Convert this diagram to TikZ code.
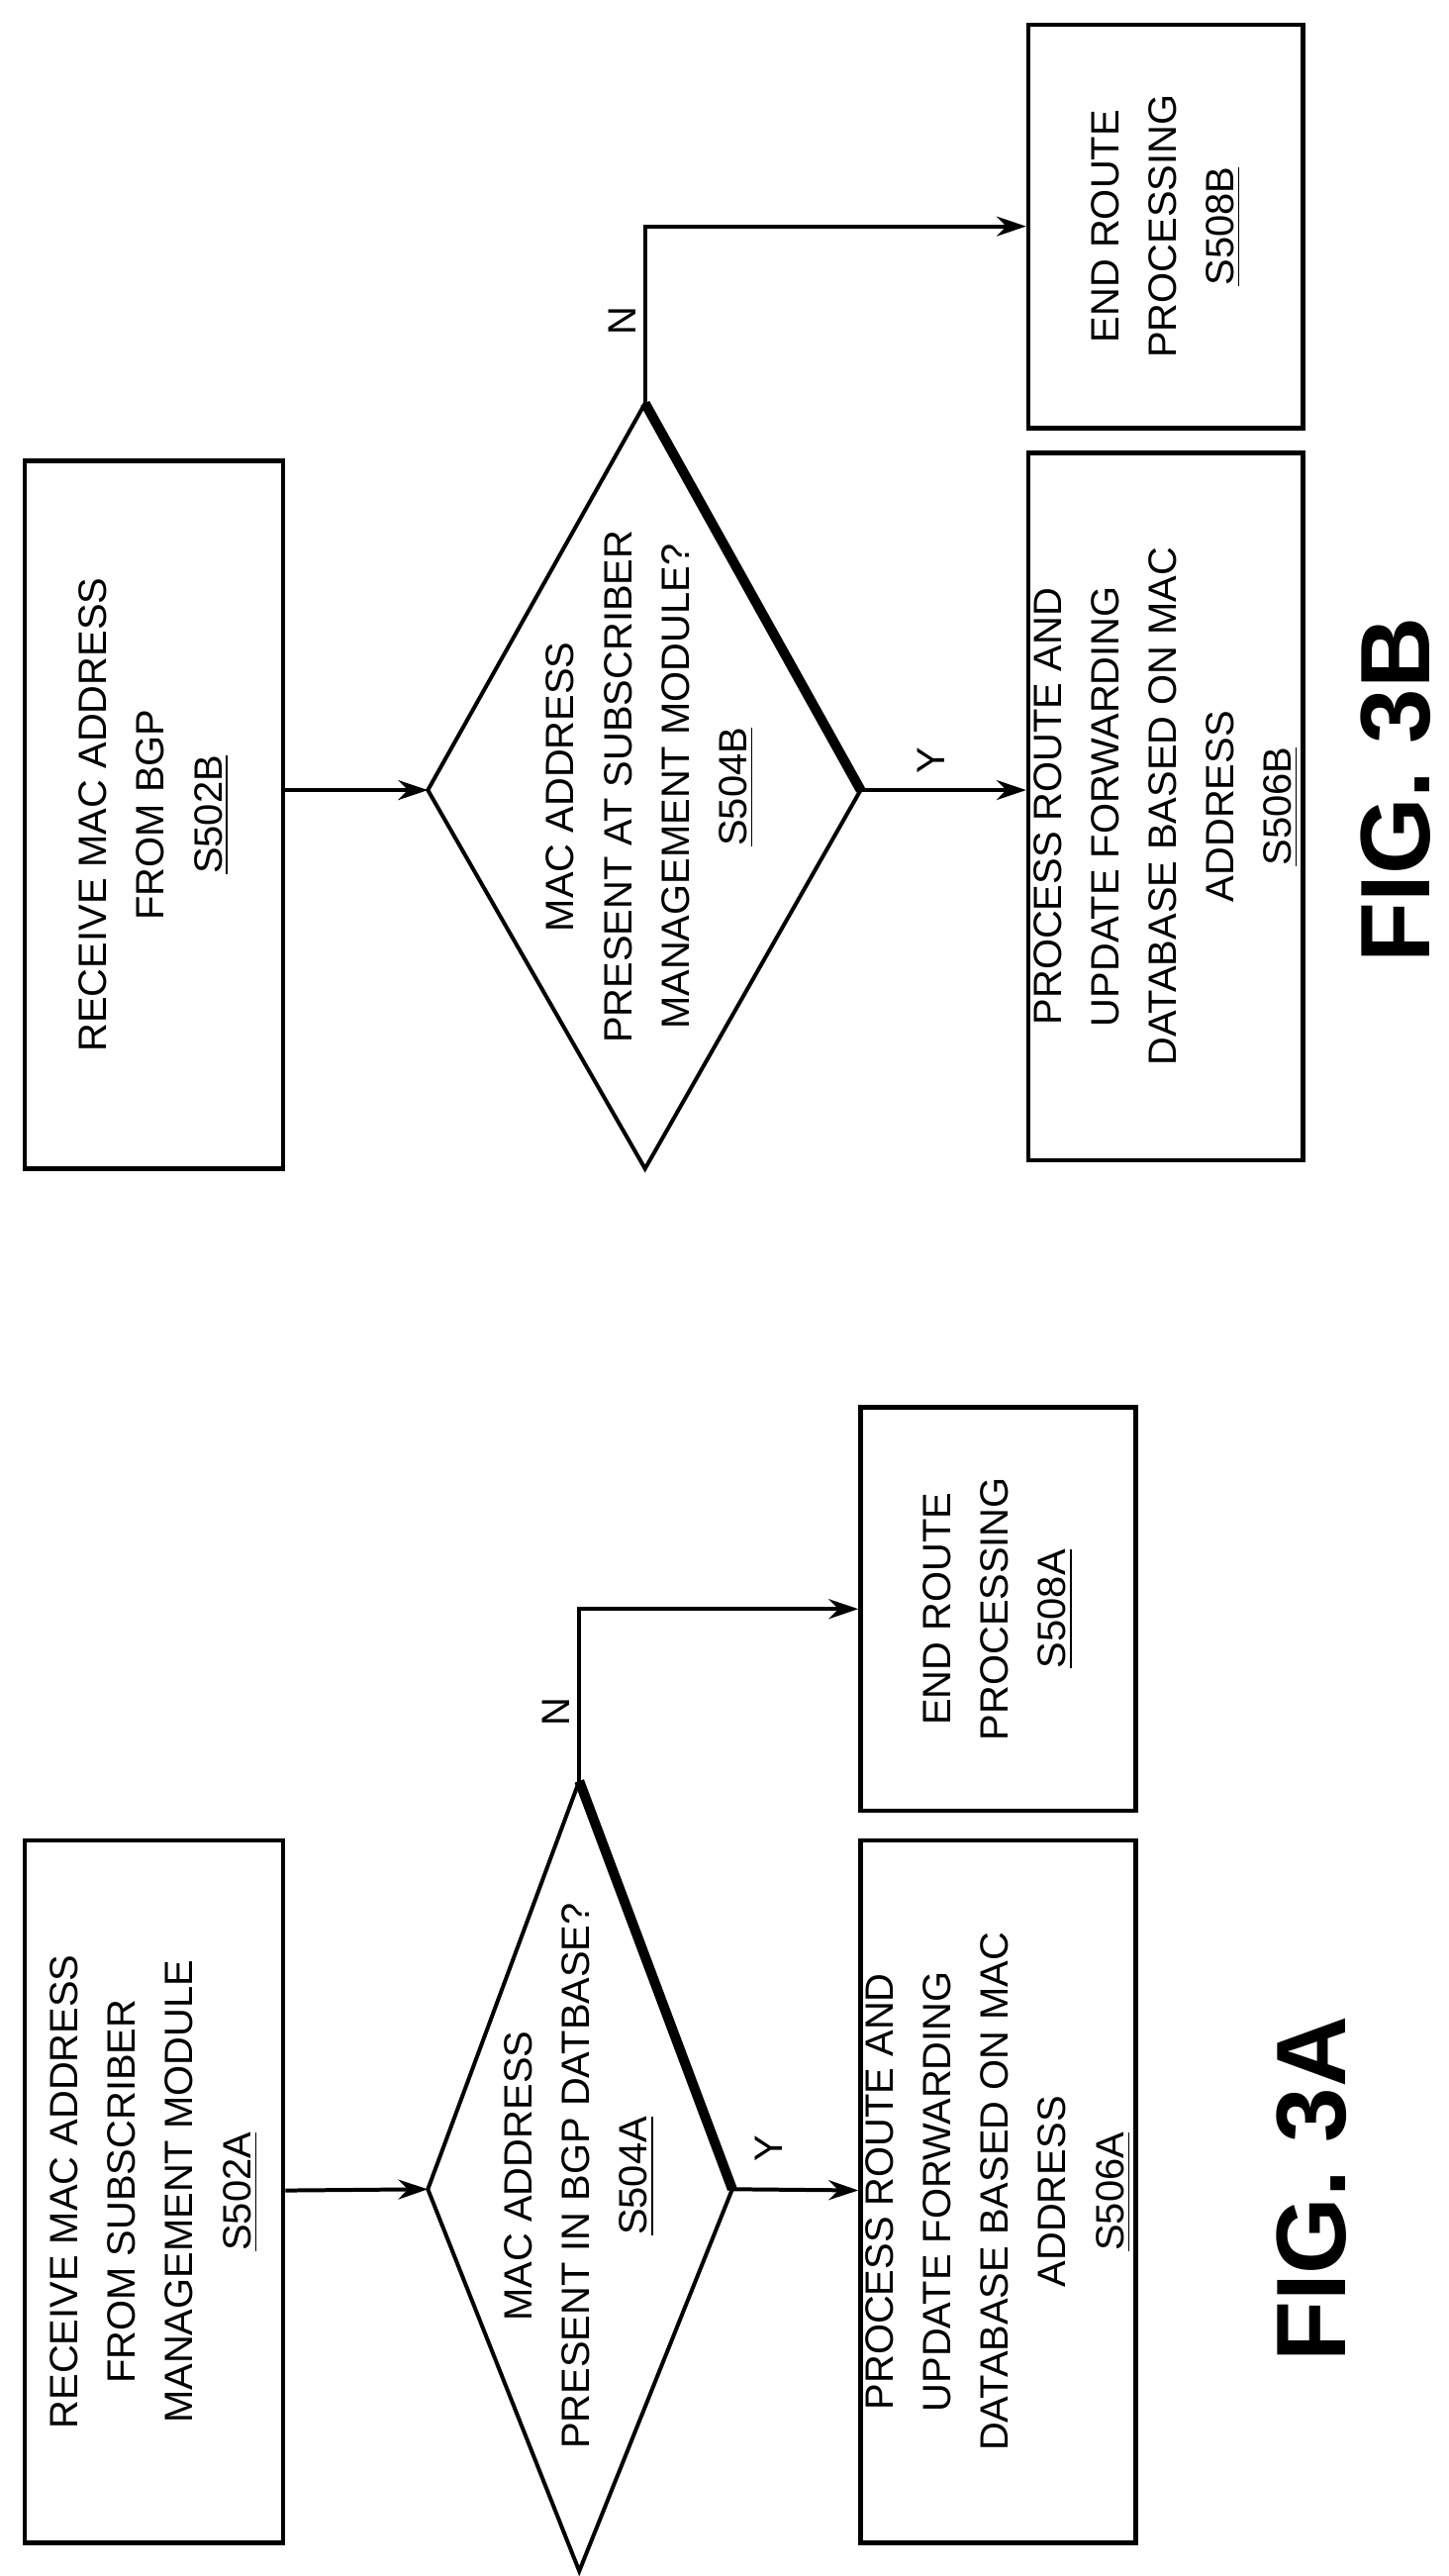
\documentclass[tikz,border=0pt]{standalone}
\usepackage{fontspec}
\setmainfont{Liberation Sans}
\usetikzlibrary{arrows.meta}
\begin{document}
\begin{tikzpicture}[x=0.5pt,y=-0.5pt,
  box/.style={draw,line width=1.4pt,rotate=90,align=center,inner sep=0pt,font=\fontsize{12}{17.5}\selectfont},
  dtxt/.style={rotate=90,align=center,inner sep=0pt,font=\fontsize{12}{17.5}\selectfont},
  dline/.style={line width=1.2pt,line join=miter},
  arr/.style={line width=1.2pt,-{Stealth[length=9pt,width=6pt]}},
  lbl/.style={rotate=90,font=\fontsize{12}{15}\selectfont},
  fig/.style={rotate=90,font=\bfseries\fontsize{30}{34}\selectfont}]
\useasboundingbox (0,0) rectangle (880,1565);
% FIG 3A
\node[box,minimum width=213.5pt,minimum height=78.5pt] (a2) at (93.5,1331.5) {RECEIVE MAC ADDRESS\\FROM SUBSCRIBER\\MANAGEMENT MODULE\\\underline{S502A}};
\coordinate (a4l) at (260,1330);
\coordinate (a4t) at (352,1082);
\coordinate (a4r) at (445,1330);
\coordinate (a4b) at (352,1562);
\draw[dline] (a4l) -- (a4t) -- (a4r) -- (a4b) -- cycle;
\draw[line width=3pt] (a4t) -- (a4r);
\node[dtxt] (a4) at (352,1322) {MAC ADDRESS\\PRESENT IN BGP DATBASE?\\\underline{S504A}};
\node[box,minimum width=213.5pt,minimum height=83.5pt] (a6) at (606.5,1331.5) {PROCESS ROUTE AND\\UPDATE FORWARDING\\DATABASE BASED ON MAC\\ADDRESS\\\underline{S506A}};
\node[box,minimum width=122.5pt,minimum height=83.5pt] (a8) at (606.5,977.5) {END ROUTE\\PROCESSING\\\underline{S508A}};
\draw[arr] (a2) -- (a4l);
\draw[arr] (a4r) -- (a6);
\draw[arr] (a4t) |- (a8);
\node[lbl] (ya) at (467,1305) {Y};
\node[lbl] (na) at (338,1040) {N};
\node[fig] (fa) at (797,1330) {FIG. 3A};
% FIG 3B
\node[box,minimum width=215pt,minimum height=78.5pt] (b2) at (93.5,495) {RECEIVE MAC ADDRESS\\FROM BGP\\\underline{S502B}};
\coordinate (b4l) at (260,480);
\coordinate (b4t) at (392,245);
\coordinate (b4r) at (523,480);
\coordinate (b4b) at (392,710);
\draw[dline] (b4l) -- (b4t) -- (b4r) -- (b4b) -- cycle;
\draw[line width=3pt] (b4t) -- (b4r);
\node[dtxt] (b4) at (395,478) {MAC ADDRESS\\PRESENT AT SUBSCRIBER\\MANAGEMENT MODULE?\\\underline{S504B}};
\node[box,minimum width=215pt,minimum height=83.5pt] (b6) at (708.5,490) {PROCESS ROUTE AND\\UPDATE FORWARDING\\DATABASE BASED ON MAC\\ADDRESS\\\underline{S506B}};
\node[box,minimum width=122.5pt,minimum height=83.5pt] (b8) at (708.5,137.5) {END ROUTE\\PROCESSING\\\underline{S508B}};
\draw[arr] (b2.south |- b4l) -- (b4l);
\draw[arr] (b4r) -- (b6.north |- b4r);
\draw[arr] (b4t) |- (b8);
\node[lbl] (yb) at (566,462) {Y};
\node[lbl] (nb) at (378,195) {N};
\node[fig] (fb) at (848,480) {FIG. 3B};
\end{tikzpicture}
\end{document}
